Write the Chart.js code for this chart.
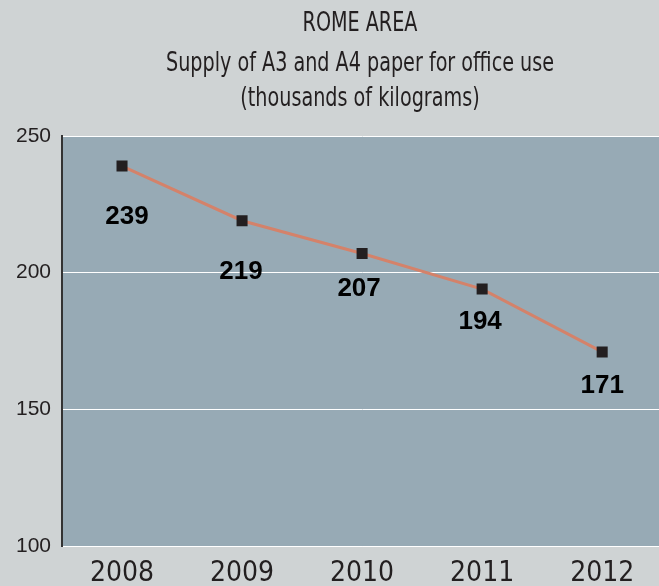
<!DOCTYPE html>
<html>
<head>
<meta charset="utf-8">
<script src="https://cdn.jsdelivr.net/npm/chart.js@4"></script>
<style>
html,body{margin:0;padding:0;background:#cfd3d4;overflow:hidden;width:659px;height:586px;}
#wrap{position:relative;width:670px;height:586px;}
</style>
</head>
<body>
<div id="wrap"><canvas id="c" width="670" height="586"></canvas></div>
<script>
const titleLines = ["ROME AREA", "Supply of A3 and A4 paper for office use", "(thousands of kilograms)"];
const years = ["2008", "2009", "2010", "2011", "2012"];
const supply = [239, 219, 207, 194, 171];
const yTicks = [100, 150, 200, 250];
const labelDx = [5, -1, -3, -2, 0];
const labelDy = [51, 51, 35, 33, 34];

const TEXT = '#231f20';
const COND = '"DejaVu Sans Condensed", "Liberation Sans Narrow", sans-serif';

const plotBg = {
  id: 'plotBg',
  beforeDraw(chart) {
    const {ctx, chartArea: a} = chart;
    ctx.save();
    ctx.fillStyle = '#97aab5';
    ctx.fillRect(a.left, a.top, a.right - a.left, a.bottom - a.top);
    ctx.restore();
  }
};

const titleDraw = {
  id: 'titleDraw',
  afterDraw(chart) {
    const ctx = chart.ctx;
    const sx = 0.82;
    ctx.save();
    ctx.fillStyle = TEXT;
    ctx.font = '26px ' + COND;
    ctx.textAlign = 'center';
    ctx.textBaseline = 'alphabetic';
    ctx.scale(sx, 1);
    const ys = [31, 71, 106];
    titleLines.forEach((t, i) => ctx.fillText(t, 360 / sx, ys[i]));
    ctx.restore();
  }
};

const valueLabels = {
  id: 'valueLabels',
  afterDatasetsDraw(chart) {
    const ctx = chart.ctx;
    const meta = chart.getDatasetMeta(0);
    ctx.save();
    ctx.fillStyle = '#000';
    ctx.font = 'bold 26px "Liberation Sans", sans-serif';
    ctx.textAlign = 'center';
    ctx.textBaseline = 'middle';
    meta.data.forEach((pt, i) => {
      ctx.fillText(String(supply[i]), pt.x + labelDx[i], pt.y + labelDy[i]);
    });
    ctx.restore();
  }
};

new Chart(document.getElementById('c'), {
  type: 'line',
  data: {
    labels: years,
    datasets: [{
      data: supply,
      borderColor: '#d4826a',
      borderWidth: 3,
      pointStyle: 'rect',
      pointRadius: 7.8,
      pointBackgroundColor: TEXT,
      pointBorderColor: TEXT,
      pointBorderWidth: 0,
      tension: 0
    }]
  },
  options: {
    responsive: false,
    animation: false,
    layout: {padding: {top: 136, left: 0, right: 0, bottom: 0}},
    plugins: {legend: {display: false}, title: {display: false}, tooltip: {enabled: false}},
    scales: {
      x: {
        offset: true,
        grid: {display: false, drawTicks: false},
        border: {display: true, color: '#ffffff', width: 1},
        ticks: {
          color: TEXT,
          padding: 11,
          font: {family: COND, size: 28}
        },
        afterFit(s) { s.height = 40; }
      },
      y: {
        min: 100,
        max: 250,
        afterBuildTicks(s) { s.ticks = yTicks.map(v => ({value: v})); },
        grid: {color: '#ffffff', lineWidth: 1, drawTicks: false},
        border: {display: true, color: '#333333', width: 2},
        ticks: {
          color: TEXT,
          padding: 11,
          font: {family: '"Liberation Sans", sans-serif', size: 21}
        },
        afterFit(s) { s.width = 62; }
      }
    }
  },
  plugins: [plotBg, titleDraw, valueLabels]
});
</script>
</body>
</html>
